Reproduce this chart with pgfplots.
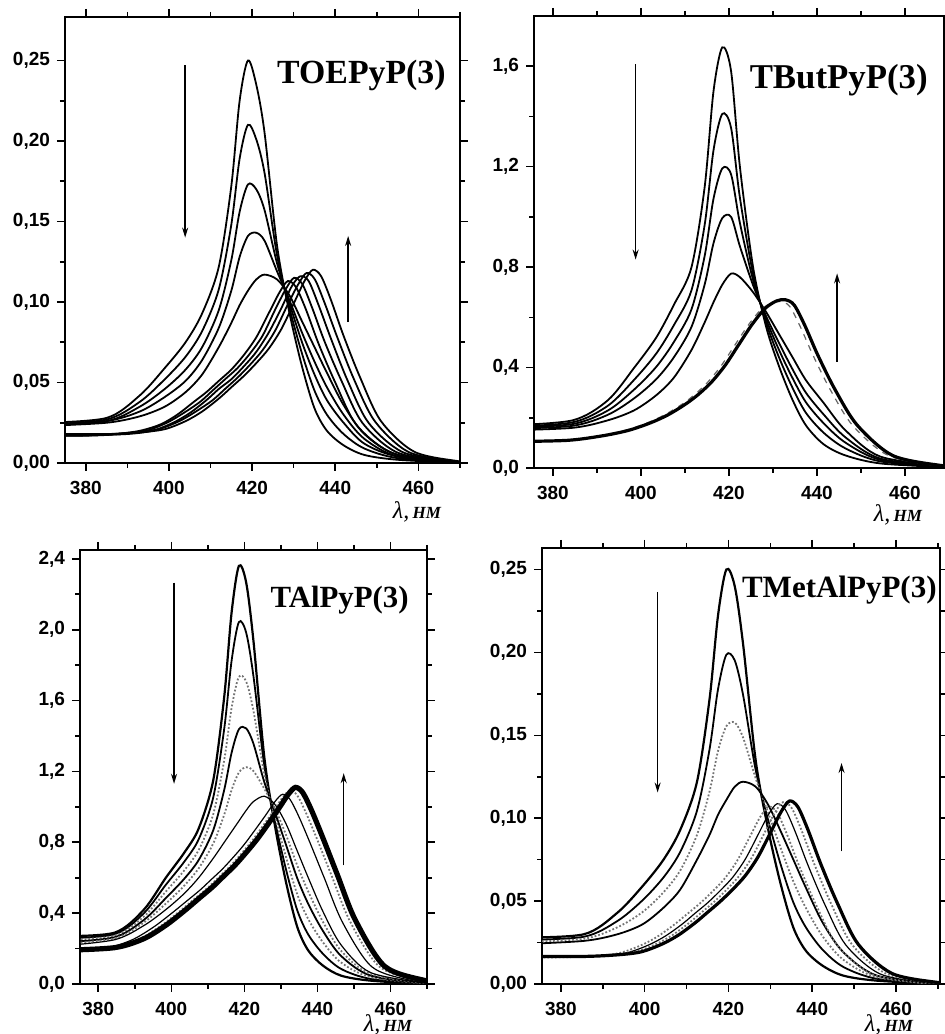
\documentclass[border=0pt]{standalone}
\usepackage{pgfplots}
\pgfplotsset{compat=1.18}
\usepackage{pgfplotstable}
\usepackage{fontspec}
\setmainfont{Liberation Serif}
\setsansfont{Liberation Sans}
\usetikzlibrary{arrows.meta}

\newcommand{\lam}{{\fontsize{12}{13}\selectfont\itshape λ,}\,{\fontsize{8.5}{9}\selectfont\bfseries\itshape НМ}}

\tikzset{arr/.style={black, line width=0.7pt, -{Stealth[length=5pt,width=3pt]}},
  ttl/.style={anchor=east, inner sep=0pt}}
\pgfplotsset{
  base/.style={
    scale only axis, anchor=south west,
    xtick={380,400,420,440,460}, minor xtick={390,410,430,450,470},
    tick align=outside,
    major tick length=4pt, minor tick length=2.5pt,
    tick style={black, line width=0.8pt},
    axis line style={line width=0.9pt},
    ticklabel style={font=\sffamily\bfseries\fontsize{9.5}{11}\selectfont},
    xticklabel style={yshift=-1.5pt},
    /pgf/number format/assume math mode=true,
    yticklabel style={/pgf/number format/.cd, use comma, fixed, fixed zerofill},
  },
  raised/.style={xticklabels={380,400,420,440,\raisebox{3pt}{460}}},
  c/.style={black, line width=0.9pt, smooth},
  th/.style={black, line width=0.6pt, smooth},
  dt/.style={black!55, densely dotted, line width=0.9pt, smooth},
  ds/.style={black!60, dashed, line width=0.6pt, smooth},
  tk/.style={black, line width=1.6pt, smooth},
  tkk/.style={black, line width=2.6pt, smooth},
}

% ---------- Panel 1: TOEPyP(3)
\pgfplotstableread{
x T D1 D2 D3 M
370 0.025 0.024 0.024 0.023 0.023
385 0.028 0.027 0.026 0.026 0.025
393 0.042 0.038 0.035 0.032 0.029
399 0.059 0.052 0.046 0.041 0.035
404 0.075 0.066 0.058 0.051 0.044
408 0.093 0.082 0.072 0.064 0.055
412 0.122 0.108 0.095 0.084 0.072
415 0.172 0.148 0.126 0.107 0.087
417 0.225 0.189 0.156 0.128 0.098
419 0.250 0.210 0.173 0.141 0.107
421 0.235 0.201 0.170 0.143 0.114
423 0.205 0.180 0.157 0.138 0.117
426 0.135 0.129 0.124 0.119 0.114
429 0.093 0.096 0.099 0.101 0.104
432 0.060 0.068 0.075 0.081 0.088
435 0.034 0.045 0.055 0.063 0.072
438 0.020 0.030 0.039 0.047 0.056
442 0.011 0.018 0.025 0.030 0.036
447 0.005 0.009 0.012 0.015 0.018
455 0.002 0.003 0.004 0.004 0.005
470 0.000 0.000 0.000 0.000 0.000
}\tA
\pgfplotstableread{
xF F xa a xb b xc c xd d
370 0.018 364 0.017 365.5 0.017 367 0.0175 368.5 0.0177
385 0.018 379 0.017 380.5 0.017 382 0.0175 383.5 0.0177
393 0.019 387 0.018 388.5 0.018 390 0.018 391.5 0.019
399 0.021 393 0.020 394.5 0.020 396 0.020 397.5 0.021
404 0.026 398 0.024 399.5 0.025 401 0.025 402.5 0.026
408 0.032 402 0.030 403.5 0.031 405 0.031 406.5 0.032
412 0.040 406 0.038 407.5 0.038 409 0.039 410.5 0.039
415 0.047 409 0.044 410.5 0.045 412 0.046 413.5 0.046
418 0.054 412 0.051 413.5 0.052 415 0.052 416.5 0.053
421 0.062 415 0.058 416.5 0.059 418 0.060 419.5 0.061
424 0.071 418 0.067 419.5 0.068 421 0.069 422.5 0.070
427 0.083 421 0.078 422.5 0.079 424 0.081 425.5 0.082
430 0.099 424 0.093 425.5 0.095 427 0.096 428.5 0.098
432.6 0.113 426.6 0.106 428.1 0.108 429.6 0.110 431.1 0.111
434.6 0.120 428.6 0.113 430.1 0.115 431.6 0.116 433.1 0.118
436.6 0.116 430.6 0.109 432.1 0.111 433.6 0.113 435.1 0.114
439 0.101 433 0.095 434.5 0.096 436 0.098 437.5 0.099
442 0.079 436 0.074 437.5 0.075 439 0.077 440.5 0.078
446 0.053 440 0.050 441.5 0.051 443 0.051 444.5 0.052
451 0.026 445 0.024 446.5 0.025 448 0.025 449.5 0.026
459 0.007 453 0.007 454.5 0.007 456 0.007 457.5 0.007
470 0.001 464 0.001 465.5 0.001 467 0.001 468.5 0.001
476 0.000 470 0.000 471.5 0.000 473 0.000 474.5 0.000
}\fA

% ---------- Panel 2: TButPyP(3)
\pgfplotstableread{
x T D1 D2 D3 M
370 0.170 0.164 0.160 0.156 0.150
384.5 0.190 0.182 0.175 0.168 0.160
392.5 0.270 0.248 0.229 0.212 0.190
398.5 0.400 0.352 0.313 0.278 0.230
403.5 0.520 0.456 0.403 0.354 0.290
407.5 0.650 0.569 0.502 0.441 0.360
411.5 0.800 0.708 0.632 0.562 0.470
414.5 1.120 0.969 0.845 0.731 0.580
416.5 1.500 1.265 1.072 0.895 0.660
418.5 1.675 1.410 1.193 0.995 0.730
420.5 1.580 1.354 1.169 1.000 0.774
422.5 1.200 1.077 0.976 0.883 0.760
425.5 0.800 0.772 0.749 0.728 0.700
428.5 0.560 0.577 0.591 0.603 0.620
431.5 0.400 0.436 0.466 0.494 0.530
434.5 0.270 0.318 0.357 0.392 0.440
437.5 0.170 0.220 0.262 0.300 0.350
441.5 0.095 0.141 0.179 0.214 0.260
446.5 0.050 0.078 0.101 0.122 0.150
454.5 0.018 0.026 0.032 0.037 0.045
469.5 0.003 0.004 0.004 0.004 0.005
}\tB
\pgfplotstableread{
xF F xa a
370 0.105 369 0.104
383.2 0.110 382.2 0.109
391.2 0.128 390.2 0.127
397.2 0.150 396.2 0.149
402.2 0.180 401.2 0.178
406.2 0.212 405.2 0.210
410.2 0.255 409.2 0.252
413.2 0.295 412.2 0.292
416.2 0.345 415.2 0.342
419.2 0.410 418.2 0.406
422.2 0.490 421.2 0.485
425.2 0.570 424.2 0.564
428.2 0.635 427.2 0.629
430.8 0.665 429.8 0.658
432.8 0.670 431.8 0.663
434.8 0.650 433.8 0.644
437.2 0.570 436.2 0.564
440.2 0.450 439.2 0.446
444.2 0.310 443.2 0.307
449.2 0.170 448.2 0.168
457.2 0.050 456.2 0.050
468.2 0.010 467.2 0.010
474.2 0.005 473.2 0.005
}\fB

% ---------- Panel 3: TAlPyP(3)
\pgfplotstableread{
x T D1 D2 D3 D4 M
370 0.270 0.258 0.246 0.235 0.225 0.215
384.5 0.290 0.281 0.273 0.264 0.258 0.250
392.5 0.420 0.400 0.381 0.362 0.347 0.330
398.5 0.600 0.560 0.522 0.485 0.454 0.420
403.5 0.740 0.689 0.640 0.593 0.554 0.510
407.5 0.878 0.817 0.757 0.700 0.653 0.600
411.5 1.152 1.055 0.960 0.869 0.794 0.710
414.5 1.624 1.443 1.266 1.097 0.957 0.800
416.5 2.096 1.824 1.558 1.305 1.095 0.860
418.5 2.360 2.043 1.734 1.438 1.194 0.920
420.5 2.266 1.983 1.707 1.443 1.224 0.980
422.5 1.935 1.736 1.541 1.356 1.202 1.030
425.5 1.274 1.227 1.181 1.137 1.101 1.060
428.5 0.878 0.907 0.935 0.962 0.985 1.010
431.5 0.566 0.639 0.710 0.780 0.837 0.900
434.5 0.321 0.415 0.505 0.596 0.668 0.750
437.5 0.189 0.279 0.366 0.452 0.522 0.600
441.5 0.104 0.171 0.236 0.300 0.352 0.410
446.5 0.047 0.085 0.121 0.158 0.187 0.220
454.5 0.019 0.029 0.039 0.048 0.056 0.065
469.5 0.000 0.001 0.002 0.003 0.004 0.005
}\tC
\pgfplotstableread{
xF F xa a xb b
370 0.190 366.5 0.183 368.5 0.187
384.4 0.205 380.9 0.198 382.9 0.202
392.4 0.255 388.9 0.246 390.9 0.251
398.4 0.330 394.9 0.318 396.9 0.325
403.4 0.410 399.9 0.396 401.9 0.404
407.4 0.480 403.9 0.463 405.9 0.473
411.4 0.550 407.9 0.531 409.9 0.542
414.4 0.610 410.9 0.589 412.9 0.601
417.4 0.670 413.9 0.647 415.9 0.660
420.4 0.740 416.9 0.714 418.9 0.729
423.4 0.815 419.9 0.786 421.9 0.803
426.4 0.900 422.9 0.869 424.9 0.887
429.4 0.990 425.9 0.955 427.9 0.975
432.0 1.070 428.5 1.033 430.5 1.054
434.0 1.110 430.5 1.071 432.5 1.093
436.0 1.080 432.5 1.042 434.5 1.064
438.4 0.980 434.9 0.946 436.9 0.965
441.4 0.830 437.9 0.801 439.9 0.818
445.4 0.620 441.9 0.598 443.9 0.611
450.4 0.360 446.9 0.347 448.9 0.355
458.4 0.100 454.9 0.097 456.9 0.099
469.4 0.020 465.9 0.019 467.9 0.020
475.4 0.010 471.9 0.010 473.9 0.010
}\fC

% ---------- Panel 4: TMetAlPyP(3)
\pgfplotstableread{
x T D1 D2 M
370 0.028 0.0265 0.0253 0.024
385.5 0.030 0.0285 0.0273 0.026
393.5 0.043 0.0380 0.0342 0.030
399.5 0.059 0.0505 0.0434 0.036
404.5 0.075 0.0643 0.0553 0.046
408.5 0.093 0.0797 0.0685 0.057
412.5 0.122 0.1046 0.0900 0.075
415.5 0.172 0.1417 0.1162 0.090
417.5 0.222 0.1776 0.1404 0.102
419.5 0.250 0.1986 0.1555 0.111
421.5 0.240 0.1952 0.1577 0.119
423.5 0.205 0.1743 0.1486 0.122
426.5 0.135 0.1291 0.1241 0.119
429.5 0.093 0.0986 0.1032 0.108
432.5 0.060 0.0718 0.0818 0.092
435.5 0.034 0.0492 0.0619 0.075
438.5 0.020 0.0341 0.0458 0.058
442.5 0.011 0.0206 0.0287 0.037
447.5 0.005 0.0102 0.0145 0.019
455.5 0.002 0.0031 0.0040 0.005
470.5 0.000 0.0000 0.0000 0.000
}\tD
\pgfplotstableread{
xF F xa a xb b xc c
370 0.0166 365 0.0161 367 0.0163 368.5 0.0165
385 0.0166 380 0.0161 382 0.0163 383.5 0.0165
393 0.0175 388 0.0169 390 0.0172 391.5 0.0174
399 0.0193 394 0.0187 396 0.0190 397.5 0.0192
404 0.0239 399 0.0232 401 0.0236 402.5 0.0238
408 0.0294 403 0.0285 405 0.0290 406.5 0.0293
412 0.0368 407 0.0357 409 0.0362 410.5 0.0366
415 0.0432 410 0.0419 412 0.0426 413.5 0.0430
418 0.0497 413 0.0482 415 0.0489 416.5 0.0494
421 0.0570 416 0.0553 418 0.0562 419.5 0.0567
424 0.0653 419 0.0633 421 0.0643 422.5 0.0650
427 0.0764 422 0.0740 424 0.0752 425.5 0.0759
430 0.0911 425 0.0883 427 0.0897 428.5 0.0906
432.6 0.1040 427.6 0.1008 429.6 0.1024 431.1 0.1034
434.6 0.1104 429.6 0.1070 431.6 0.1087 433.1 0.1098
436.6 0.1067 431.6 0.1035 433.6 0.1051 435.1 0.1061
439 0.0929 434 0.0901 436 0.0915 437.5 0.0924
442 0.0727 437 0.0705 439 0.0716 440.5 0.0723
446 0.0488 441 0.0473 443 0.0480 444.5 0.0485
451 0.0239 446 0.0232 448 0.0236 449.5 0.0238
459 0.0064 454 0.0062 456 0.0063 457.5 0.0064
470 0.0009 465 0.0009 467 0.0009 468.5 0.0009
476 0.0000 471 0.0000 473 0.0000 474.5 0.0000
}\fD

\begin{document}
\begin{tikzpicture}
\useasboundingbox (0,0) rectangle (472.5pt,517pt);

% ---- Panel 1
\begin{axis}[base, at={(32.5pt,285.5pt)}, width=197.5pt, height=223pt,
  xmin=375, xmax=470, ymin=0, ymax=0.277,
  ytick={0,0.05,0.1,0.15,0.2,0.25}, minor ytick={0.025,0.075,0.125,0.175,0.225},
  yticklabel style={/pgf/number format/precision=2}]
\addplot[c] table[x=x,y=T]{\tA};
\addplot[c] table[x=x,y=D1]{\tA};
\addplot[c] table[x=x,y=D2]{\tA};
\addplot[c] table[x=x,y=D3]{\tA};
\addplot[c] table[x=x,y=M]{\tA};
\addplot[c] table[x=xa,y=a]{\fA};
\addplot[c] table[x=xb,y=b]{\fA};
\addplot[c] table[x=xc,y=c]{\fA};
\addplot[c] table[x=xd,y=d]{\fA};
\addplot[c] table[x=xF,y=F]{\fA};
\draw[arr] (axis cs:403.9,0.247) -- (axis cs:403.9,0.140);
\draw[arr] (axis cs:443.1,0.0875) -- (axis cs:443.1,0.141);
\end{axis}

% ---- Panel 2
\begin{axis}[base, raised, at={(267pt,283pt)}, width=205pt, height=226pt,
  xmin=375.7, xmax=468.9, ymin=0, ymax=1.8,
  ytick={0,0.4,0.8,1.2,1.6}, minor ytick={0.2,0.6,1.0,1.4},
  yticklabel style={/pgf/number format/precision=1}]
\addplot[c] table[x=x,y=T]{\tB};
\addplot[c] table[x=x,y=D1]{\tB};
\addplot[c] table[x=x,y=D2]{\tB};
\addplot[c] table[x=x,y=D3]{\tB};
\addplot[c] table[x=x,y=M]{\tB};
\addplot[ds] table[x=xa,y=a]{\fB};
\addplot[tk] table[x=xF,y=F]{\fB};
\draw[arr] (axis cs:398.8,1.608) -- (axis cs:398.8,0.83);
\draw[arr] (axis cs:444.6,0.423) -- (axis cs:444.6,0.775);
\end{axis}

% ---- Panel 3
\begin{axis}[base, raised, at={(40pt,25pt)}, width=173.5pt, height=217pt,
  xmin=375, xmax=470, ymin=0, ymax=2.45,
  ytick={0,0.4,0.8,1.2,1.6,2.0,2.4}, minor ytick={0.2,0.6,1.0,1.4,1.8,2.2},
  yticklabel style={/pgf/number format/precision=1}]
\addplot[c, line width=1.1pt] table[x=x,y=T]{\tC};
\addplot[c] table[x=x,y=D1]{\tC};
\addplot[dt] table[x=x,y=D2]{\tC};
\addplot[c] table[x=x,y=D3]{\tC};
\addplot[dt] table[x=x,y=D4]{\tC};
\addplot[th] table[x=x,y=M]{\tC};
\addplot[th] table[x=xa,y=a]{\fC};
\addplot[dt] table[x=xb,y=b]{\fC};
\addplot[tkk] table[x=xF,y=F]{\fC};
\draw[arr] (axis cs:400.75,2.266) -- (axis cs:400.75,1.13);
\draw[arr] (axis cs:447.2,0.67) -- (axis cs:447.2,1.19);
\end{axis}

% ---- Panel 4
\begin{axis}[base, raised, at={(271pt,25pt)}, width=199pt, height=218pt,
  xmin=375.5, xmax=470.5, ymin=0, ymax=0.263,
  ytick={0,0.05,0.1,0.15,0.2,0.25}, minor ytick={0.025,0.075,0.125,0.175,0.225},
  yticklabel style={/pgf/number format/precision=2}]
\addplot[c, line width=1.1pt] table[x=x,y=T]{\tD};
\addplot[c] table[x=x,y=D1]{\tD};
\addplot[dt] table[x=x,y=D2]{\tD};
\addplot[c] table[x=x,y=M]{\tD};
\addplot[dt] table[x=xa,y=a]{\fD};
\addplot[th] table[x=xb,y=b]{\fD};
\addplot[dt] table[x=xc,y=c]{\fD};
\addplot[tk] table[x=xF,y=F]{\fD};
\draw[arr] (axis cs:403.1,0.2366) -- (axis cs:403.1,0.1155);
\draw[arr] (axis cs:447.0,0.080) -- (axis cs:447.0,0.1333);
\end{axis}

% ---- titles
\node[ttl, font=\bfseries\fontsize{16.9}{18}\selectfont] at (223pt,479.5pt) {TOEPyP(3)};
\node[ttl, font=\bfseries\fontsize{17.4}{19}\selectfont] at (464pt,477pt) {TButPyP(3)};
\node[ttl, font=\bfseries\fontsize{15.4}{17}\selectfont] at (204.5pt,217pt) {TAlPyP(3)};
\node[ttl, font=\bfseries\fontsize{15.5}{17}\selectfont] at (468.5pt,222pt) {TMetAlPyP(3)};

% ---- axis labels
\node at (208.5pt,261pt) {\lam};
\node at (449pt,259.5pt) {\lam};
\node at (194pt,4.5pt) {\lam};
\node at (444.5pt,4.8pt) {\lam};
\end{tikzpicture}
\end{document}
